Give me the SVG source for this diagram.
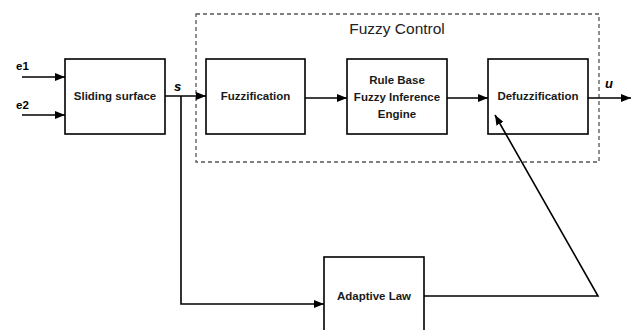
<svg xmlns="http://www.w3.org/2000/svg" width="632" height="330" viewBox="0 0 632 330">
<style>
.box{fill:#fff;stroke:#000;stroke-width:1.6}
.lbl{font-family:"Liberation Sans",Arial,sans-serif;font-weight:bold;font-size:11.5px;fill:#1a1a1a;text-anchor:middle}
.var{font-family:"Liberation Sans",Arial,sans-serif;font-weight:bold;font-style:italic;font-size:13px;fill:#000}
.in{font-family:"Liberation Sans",Arial,sans-serif;font-weight:bold;font-size:11.5px;fill:#000}
.ln{fill:none;stroke:#000;stroke-width:1.6}
</style>
<defs>
<marker id="ar" markerWidth="10" markerHeight="8" refX="10" refY="4" orient="auto" markerUnits="userSpaceOnUse">
<path d="M0,0 L10,4 L0,8 Z" fill="#000"/>
</marker>
</defs>
<rect width="632" height="330" fill="#fff"/>
<g id="fuzzy-control">
<rect x="196" y="14" width="403" height="148" fill="none" stroke="#555" stroke-width="1.3" stroke-dasharray="4,3"/>
<text x="397" y="34" font-family="Liberation Sans,Arial,sans-serif" font-size="15.5px" fill="#222" text-anchor="middle">Fuzzy Control</text>
</g>
<g id="sliding-surface">
<rect class="box" x="65" y="59" width="100" height="75"/>
<text class="lbl" x="115" y="100">Sliding surface</text>
</g>
<g id="fuzzification">
<rect class="box" x="206" y="59" width="99" height="75"/>
<text class="lbl" x="255.5" y="100">Fuzzification</text>
</g>
<g id="rule-base">
<rect class="box" x="347" y="59" width="100" height="75"/>
<text class="lbl" x="397" y="84">Rule Base</text>
<text class="lbl" x="397" y="101">Fuzzy Inference</text>
<text class="lbl" x="397" y="118">Engine</text>
</g>
<g id="defuzzification">
<rect class="box" x="488" y="59" width="100" height="75"/>
<text class="lbl" x="538" y="100">Defuzzification</text>
</g>
<g id="adaptive-law">
<rect class="box" x="324" y="257" width="100" height="80"/>
<text class="lbl" x="374" y="300">Adaptive Law</text>
</g>
<g id="connectors">
<line class="ln" x1="22" y1="77" x2="65" y2="77" marker-end="url(#ar)"/>
<line class="ln" x1="22" y1="115" x2="65" y2="115" marker-end="url(#ar)"/>
<line class="ln" x1="165" y1="96" x2="206" y2="96" marker-end="url(#ar)"/>
<polyline class="ln" points="181,96 181,304 324,304" marker-end="url(#ar)"/>
<line class="ln" x1="305" y1="98" x2="347" y2="98" marker-end="url(#ar)"/>
<line class="ln" x1="447" y1="98" x2="488" y2="98" marker-end="url(#ar)"/>
<line class="ln" x1="588" y1="98" x2="631" y2="98" marker-end="url(#ar)"/>
<polyline class="ln" points="424,296 598,296 495,115" marker-end="url(#ar)"/>
<text class="in" x="16" y="70">e1</text>
<text class="in" x="16" y="109">e2</text>
<text class="var" x="174" y="91">s</text>
<text class="var" x="605" y="88">u</text>
</g>
</svg>
